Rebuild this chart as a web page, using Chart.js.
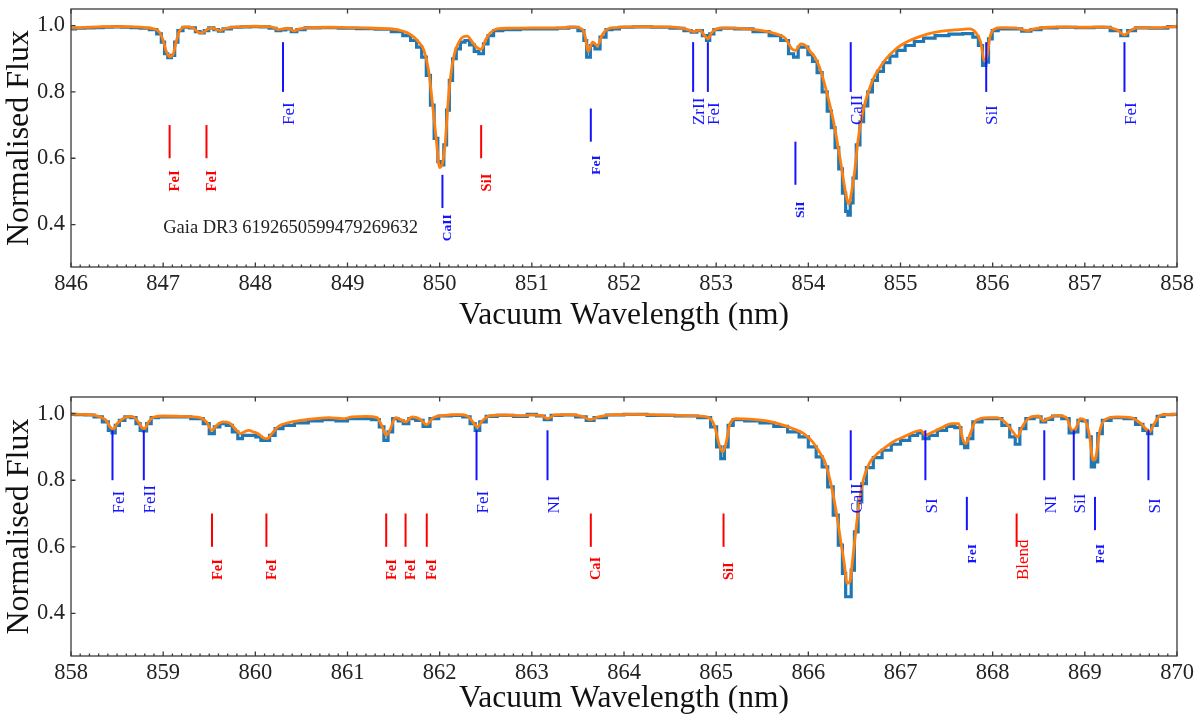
<!DOCTYPE html>
<html>
<head>
<meta charset="utf-8">
<script src="https://cdn.jsdelivr.net/npm/chart.js@4.4.1/dist/chart.umd.min.js"></script>
<style>
  html, body { margin: 0; padding: 0; background: #ffffff; }
  #wrap { position: relative; width: 1200px; height: 721px; overflow: hidden; }
  #c1 { position: absolute; left: 0; top: 0; }
  #c2 { position: absolute; left: 0; top: 380px; }
</style>
</head>
<body>
<div id="wrap">
  <canvas id="c1" width="1200" height="350"></canvas>
  <canvas id="c2" width="1200" height="341"></canvas>
</div>
<script>
// ---------------- DATA: upper panel (846-858 nm) ----------------
const wlTop = [846.00,846.10,846.20,846.30,846.40,846.50,846.60,846.70,846.80,846.90,846.96,847.00,847.03,847.07,847.11,847.14,847.18,847.25,847.32,847.38,847.42,847.47,847.52,847.58,847.62,847.68,847.80,847.90,848.00,848.10,848.20,848.25,848.30,848.36,848.42,848.48,848.60,848.80,849.00,849.20,849.40,849.55,849.65,849.72,849.78,849.83,849.88,849.92,849.96,850.00,850.03,850.06,850.09,850.12,850.16,850.20,850.25,850.30,850.35,850.40,850.45,850.50,850.55,850.62,850.75,851.00,851.20,851.35,851.45,851.55,851.58,851.61,851.66,851.71,851.77,851.84,851.90,852.00,852.20,852.40,852.60,852.70,852.76,852.82,852.88,852.91,852.95,853.00,853.10,853.30,853.50,853.65,853.75,853.82,853.86,853.92,853.97,854.02,854.07,854.12,854.18,854.23,854.27,854.31,854.35,854.39,854.42,854.44,854.47,854.50,854.54,854.58,854.62,854.67,854.72,854.78,854.85,854.92,855.00,855.10,855.20,855.30,855.45,855.60,855.75,855.82,855.87,855.91,855.94,855.97,856.02,856.10,856.25,856.38,856.45,856.60,856.80,857.00,857.20,857.35,857.43,857.50,857.60,857.80,858.00];
const obsTop = [0.990,0.992,0.993,0.994,0.995,0.996,0.995,0.994,0.992,0.988,0.975,0.950,0.915,0.903,0.910,0.950,0.985,0.995,0.993,0.982,0.978,0.985,0.993,0.988,0.983,0.990,0.995,0.996,0.997,0.996,0.992,0.985,0.987,0.990,0.982,0.988,0.993,0.994,0.992,0.991,0.989,0.982,0.970,0.955,0.935,0.905,0.850,0.760,0.660,0.590,0.580,0.640,0.745,0.835,0.900,0.930,0.950,0.955,0.942,0.922,0.915,0.945,0.970,0.985,0.988,0.990,0.990,0.992,0.995,0.985,0.955,0.905,0.940,0.930,0.965,0.988,0.990,0.995,0.996,0.995,0.992,0.985,0.980,0.985,0.970,0.955,0.975,0.988,0.992,0.990,0.982,0.970,0.955,0.915,0.905,0.935,0.935,0.912,0.892,0.858,0.800,0.742,0.692,0.632,0.568,0.495,0.440,0.428,0.465,0.540,0.640,0.710,0.758,0.800,0.835,0.862,0.888,0.908,0.925,0.940,0.952,0.962,0.970,0.974,0.976,0.965,0.940,0.880,0.890,0.960,0.985,0.990,0.990,0.983,0.988,0.993,0.995,0.994,0.995,0.985,0.970,0.985,0.993,0.992,0.997];
const modelTop = [0.993,0.994,0.995,0.996,0.997,0.997,0.997,0.996,0.994,0.990,0.980,0.955,0.925,0.906,0.915,0.950,0.985,0.996,0.994,0.980,0.978,0.987,0.993,0.988,0.985,0.992,0.996,0.997,0.998,0.997,0.994,0.988,0.990,0.992,0.984,0.990,0.994,0.995,0.994,0.993,0.991,0.987,0.978,0.965,0.948,0.925,0.865,0.770,0.665,0.572,0.585,0.645,0.764,0.850,0.915,0.945,0.965,0.968,0.952,0.935,0.928,0.958,0.978,0.990,0.992,0.993,0.993,0.994,0.996,0.988,0.965,0.922,0.950,0.940,0.975,0.992,0.994,0.996,0.997,0.996,0.994,0.987,0.982,0.986,0.968,0.960,0.978,0.990,0.993,0.991,0.985,0.975,0.962,0.930,0.925,0.945,0.940,0.922,0.905,0.875,0.820,0.765,0.715,0.655,0.590,0.520,0.475,0.462,0.500,0.555,0.655,0.725,0.772,0.815,0.848,0.875,0.902,0.922,0.940,0.955,0.966,0.975,0.983,0.987,0.990,0.978,0.950,0.893,0.910,0.965,0.990,0.994,0.993,0.985,0.990,0.995,0.996,0.995,0.996,0.987,0.972,0.987,0.994,0.994,0.998];

// ---------------- DATA: lower panel (858-870 nm) ----------------
const wlBot = [858.00,858.10,858.20,858.30,858.38,858.43,858.46,858.50,858.55,858.62,858.68,858.73,858.77,858.80,858.84,858.90,859.00,859.20,859.40,859.47,859.53,859.58,859.65,859.72,859.78,859.84,859.88,859.93,859.98,860.03,860.09,860.13,860.18,860.25,860.35,860.50,860.65,860.80,860.95,861.05,861.20,861.32,861.37,861.42,861.46,861.52,861.58,861.63,861.70,861.78,861.86,861.93,862.05,862.20,862.30,862.36,862.41,862.46,862.55,862.70,862.90,863.00,863.10,863.17,863.25,863.40,863.55,863.63,863.72,863.90,864.10,864.40,864.70,864.90,864.98,865.03,865.07,865.11,865.15,865.22,865.40,865.55,865.70,865.85,865.95,866.05,866.12,866.18,866.24,866.30,866.35,866.39,866.42,866.45,866.48,866.52,866.56,866.60,866.66,866.75,866.85,866.95,867.05,867.15,867.22,867.27,867.35,867.45,867.55,867.63,867.68,867.71,867.75,867.82,867.95,868.05,868.15,868.22,868.27,868.32,868.40,868.50,868.55,868.60,868.70,868.80,868.86,868.90,868.95,869.00,869.05,869.09,869.12,869.16,869.22,869.35,869.50,869.60,869.66,869.70,869.75,869.82,869.90,870.00];
const obsBot = [0.998,0.997,0.996,0.990,0.975,0.950,0.942,0.965,0.980,0.990,0.988,0.970,0.950,0.948,0.970,0.988,0.990,0.990,0.985,0.970,0.940,0.960,0.970,0.965,0.945,0.925,0.935,0.935,0.935,0.930,0.920,0.920,0.935,0.955,0.965,0.972,0.978,0.982,0.978,0.985,0.985,0.982,0.960,0.920,0.945,0.985,0.978,0.970,0.985,0.980,0.962,0.985,0.993,0.995,0.990,0.970,0.950,0.975,0.992,0.995,0.992,0.998,0.993,0.982,0.995,0.996,0.990,0.980,0.988,0.996,0.998,0.995,0.993,0.988,0.960,0.900,0.865,0.900,0.965,0.982,0.978,0.972,0.962,0.945,0.930,0.900,0.870,0.840,0.780,0.695,0.605,0.520,0.450,0.450,0.530,0.645,0.735,0.790,0.838,0.868,0.890,0.908,0.920,0.935,0.942,0.925,0.935,0.950,0.962,0.958,0.910,0.898,0.925,0.975,0.985,0.985,0.965,0.930,0.908,0.955,0.985,0.990,0.975,0.983,0.993,0.985,0.942,0.945,0.980,0.978,0.930,0.840,0.855,0.940,0.980,0.988,0.985,0.968,0.950,0.940,0.965,0.992,0.997,0.998];
const modelBot = [0.999,0.998,0.997,0.992,0.980,0.958,0.953,0.970,0.982,0.992,0.990,0.975,0.958,0.955,0.975,0.990,0.993,0.992,0.988,0.975,0.950,0.965,0.975,0.972,0.955,0.940,0.945,0.950,0.945,0.940,0.927,0.925,0.940,0.962,0.972,0.980,0.985,0.988,0.985,0.990,0.992,0.988,0.965,0.935,0.950,0.988,0.982,0.975,0.990,0.985,0.967,0.988,0.995,0.997,0.993,0.975,0.960,0.978,0.994,0.996,0.994,0.996,0.995,0.985,0.996,0.997,0.992,0.982,0.990,0.997,0.998,0.996,0.994,0.990,0.965,0.910,0.885,0.915,0.970,0.985,0.983,0.978,0.968,0.953,0.940,0.914,0.885,0.855,0.795,0.710,0.620,0.550,0.490,0.495,0.560,0.660,0.750,0.805,0.850,0.880,0.902,0.920,0.932,0.945,0.950,0.935,0.945,0.958,0.970,0.970,0.920,0.910,0.935,0.980,0.988,0.988,0.970,0.945,0.930,0.960,0.988,0.993,0.978,0.985,0.995,0.988,0.950,0.955,0.985,0.980,0.935,0.860,0.870,0.945,0.982,0.990,0.988,0.972,0.955,0.945,0.968,0.995,0.998,0.998];

// ---------------- Line identifications ----------------
// group: 'red' = red markers, 'blue' = blue markers, 'weak' = small blue markers
const idWlTop    = [847.07, 847.47, 848.30, 850.03, 850.45, 851.64, 852.75, 852.91, 853.86, 854.46, 855.93, 857.43];
const idNameTop  = ['FeI', 'FeI', 'FeI', 'CaII', 'SiI', 'FeI', 'ZrII', 'FeI', 'SiI', 'CaII', 'SiI', 'FeI'];
const idLowTop   = [0.60, 0.60, 0.80, 0.45, 0.60, 0.65, 0.80, 0.80, 0.52, 0.80, 0.80, 0.80];
const idHighTop  = [0.70, 0.70, 0.95, 0.55, 0.70, 0.75, 0.95, 0.95, 0.65, 0.95, 0.95, 0.95];
const idGroupTop = ['red', 'red', 'blue', 'weak', 'red', 'weak', 'blue', 'blue', 'weak', 'blue', 'blue', 'blue'];

const idWlBot    = [858.45, 858.79, 859.53, 860.12, 861.42, 861.63, 861.86, 862.40, 863.17, 863.64, 865.08, 866.46, 867.27, 867.72, 868.26, 868.56, 868.88, 869.11, 869.69];
const idNameBot  = ['FeI', 'FeII', 'FeI', 'FeI', 'FeI', 'FeI', 'FeI', 'FeI', 'NI', 'CaI', 'SiI', 'CaII', 'SI', 'FeI', 'Blend', 'NI', 'SiI', 'FeI', 'SI'];
const idLowBot   = [0.80, 0.80, 0.60, 0.60, 0.60, 0.60, 0.60, 0.80, 0.80, 0.60, 0.60, 0.80, 0.80, 0.65, 0.60, 0.80, 0.80, 0.65, 0.80];
const idHighBot  = [0.95, 0.95, 0.70, 0.70, 0.70, 0.70, 0.70, 0.95, 0.95, 0.70, 0.70, 0.95, 0.95, 0.75, 0.70, 0.95, 0.95, 0.75, 0.95];
const idGroupBot = ['blue', 'blue', 'red', 'red', 'red', 'red', 'red', 'blue', 'blue', 'red', 'red', 'blue', 'blue', 'weak', 'red', 'blue', 'blue', 'weak', 'blue'];

const starName = 'Gaia DR3 6192650599479269632';
const starNameAt = [847.0, 0.39];

const yTickValues = [0.4, 0.6, 0.8, 1.0];
const xLabel = 'Vacuum Wavelength (nm)';
const yLabel = 'Normalised Flux';

// ---------------- Styling ----------------
const SERIF = '"Liberation Serif", "DejaVu Serif", serif';
const BLUE_SPEC = '#1f77b4';
const ORANGE = '#ff7f0e';
const SPINE = '#3a3a3a';
const LABEL_GAP = 0.10;  // label starts this far (in flux) below the marker

function labelStyle(group, name) {
  if (name === 'Blend') return { color: '#ff0000', font: '17px ' + SERIF, size: 17 };
  if (group === 'red')  return { color: '#ff0000', font: 'bold 14.5px ' + SERIF, size: 14.5 };
  if (group === 'weak') return { color: '#1414ff', font: 'bold 13.5px ' + SERIF, size: 13.5 };
  return { color: '#1414ff', font: '17px ' + SERIF, size: 17 };
}

function makeDecor(ids, note) {
  return {
    id: 'decor',
    afterDatasetsDraw(chart) {
      const { ctx, scales: { x, y } } = chart;
      ctx.save();
      for (let i = 0; i < ids.wl.length; i++) {
        const st = labelStyle(ids.group[i], ids.name[i]);
        const px = x.getPixelForValue(ids.wl[i]);
        ctx.strokeStyle = st.color;
        ctx.lineWidth = 2;
        ctx.beginPath();
        ctx.moveTo(px, y.getPixelForValue(ids.low[i]));
        ctx.lineTo(px, y.getPixelForValue(ids.high[i]));
        ctx.stroke();
        const ly = y.getPixelForValue(ids.low[i] - LABEL_GAP);
        ctx.save();
        ctx.fillStyle = st.color;
        ctx.font = st.font;
        ctx.translate(px + st.size * 0.66, ly);
        ctx.rotate(-Math.PI / 2);
        ctx.textAlign = 'left';
        ctx.textBaseline = 'alphabetic';
        ctx.fillText(ids.name[i], 0, 0);
        ctx.restore();
      }
      if (note) {
        ctx.fillStyle = '#222';
        ctx.font = '18.5px ' + SERIF;
        ctx.textAlign = 'left';
        ctx.textBaseline = 'middle';
        ctx.fillText(note.text, x.getPixelForValue(note.at[0]), y.getPixelForValue(note.at[1]));
      }
      ctx.restore();
    },
    afterDraw(chart) {
      const { ctx, chartArea: a, scales: { x, y } } = chart;
      ctx.save();
      ctx.strokeStyle = SPINE;
      ctx.lineWidth = 1.3;
      ctx.beginPath();
      const x0 = Math.round(x.min), x1 = Math.round(x.max);
      for (let v = x0; v <= x1; v++) {
        const px = x.getPixelForValue(v);
        ctx.moveTo(px, a.bottom); ctx.lineTo(px, a.bottom - 4.5);
        ctx.moveTo(px, a.top); ctx.lineTo(px, a.top + 4.5);
      }
      for (let k = x0 * 10; k <= x1 * 10; k++) {
        if (k % 10 === 0) continue;
        const px = x.getPixelForValue(k / 10);
        ctx.moveTo(px, a.bottom); ctx.lineTo(px, a.bottom - 2.5);
      }
      yTickValues.forEach(v => {
        const py = y.getPixelForValue(v);
        ctx.moveTo(a.left, py); ctx.lineTo(a.left + 4.5, py);
      });
      ctx.stroke();
      ctx.strokeRect(a.left, a.top, a.right - a.left, a.bottom - a.top);
      ctx.restore();
    }
  };
}

function makeChart(canvasId, wl, obs, model, xmin, xmax, ids, note, padTop, xAxisHeight, titlePadBottom) {
  const obsPts = wl.map((w, i) => ({ x: w, y: obs[i] }));
  const modPts = wl.map((w, i) => ({ x: w, y: model[i] }));
  return new Chart(document.getElementById(canvasId), {
    type: 'line',
    data: {
      datasets: [
        { label: 'model', data: modPts, borderColor: ORANGE, borderWidth: 2.8, pointRadius: 0,
          tension: 0.35, cubicInterpolationMode: 'monotone', order: 0, fill: false },
        { label: 'observed', data: obsPts, borderColor: BLUE_SPEC, borderWidth: 3.2, pointRadius: 0,
          stepped: 'middle', order: 1, fill: false }
      ]
    },
    options: {
      responsive: false,
      animation: false,
      devicePixelRatio: 1,
      layout: { padding: { left: 0, right: 23, top: padTop, bottom: 0 } },
      plugins: { legend: { display: false }, tooltip: { enabled: false } },
      scales: {
        x: {
          type: 'linear', min: xmin, max: xmax,
          grid: { display: false, drawTicks: false },
          border: { display: false },
          ticks: { stepSize: 1, padding: 4, color: '#222', maxRotation: 0,
                   font: { family: SERIF, size: 22.5 }, callback: v => String(v) },
          title: { display: true, text: xLabel, color: '#111',
                   font: { family: SERIF, size: 31.5 }, padding: { top: 0, bottom: titlePadBottom } },
          afterFit: s => { s.height = xAxisHeight; s.paddingLeft = 0; s.paddingRight = 0; }
        },
        y: {
          type: 'linear', min: 0.272, max: 1.05,
          grid: { display: false, drawTicks: false },
          border: { display: false },
          afterBuildTicks: s => { s.ticks = yTickValues.map(v => ({ value: v })); },
          ticks: { padding: 6, color: '#222', font: { family: SERIF, size: 22.5 },
                   callback: v => Number(v).toFixed(1) },
          title: { display: true, text: yLabel, color: '#111',
                   font: { family: SERIF, size: 32 }, padding: { top: 0, bottom: 0 } },
          afterFit: s => { s.width = 71; s.paddingTop = 0; s.paddingBottom = 0; }
        }
      }
    },
    plugins: [makeDecor(ids, note)]
  });
}

makeChart('c1', wlTop, obsTop, modelTop, 846, 858,
  { wl: idWlTop, name: idNameTop, low: idLowTop, high: idHighTop, group: idGroupTop },
  { text: starName, at: starNameAt }, 9, 83, 15);
makeChart('c2', wlBot, obsBot, modelBot, 858, 870,
  { wl: idWlBot, name: idNameBot, low: idLowBot, high: idHighBot, group: idGroupBot },
  null, 17, 65, 3);
</script>
</body>
</html>
